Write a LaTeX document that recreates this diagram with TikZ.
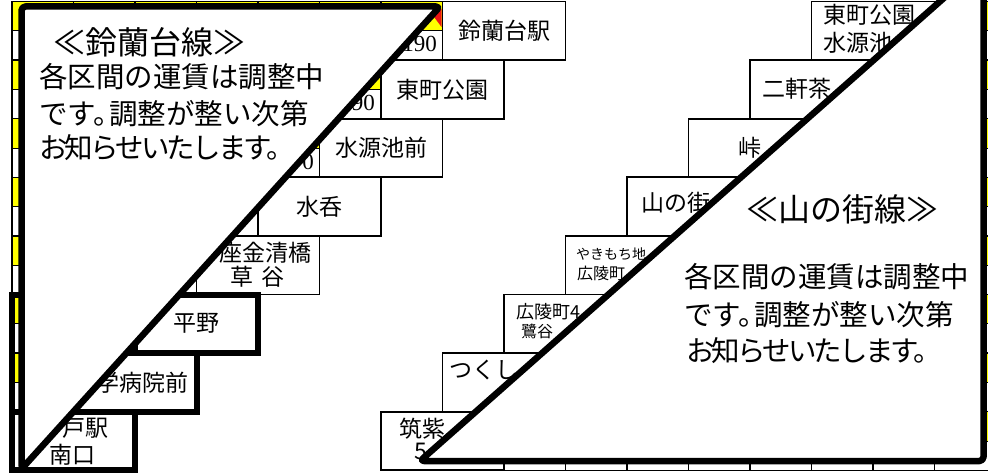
\documentclass[tikz,border=0pt]{standalone}
\usepackage{fontspec}
\setmainfont{Noto Sans CJK JP}
\newfontfamily\numfont{Liberation Serif}
\usepackage{tikz}
\definecolor{cellyellow}{RGB}{255,255,0}
\definecolor{markred}{RGB}{235,20,20}
\tikzset{
  cellline/.style={line width=1.3pt},
  halfline/.style={line width=0.8pt},
  stnbox/.style={draw, line width=1.8pt, fill=white, inner sep=0pt,
    minimum width=123pt, minimum height=58.6pt, font=\fontsize{23}{28}\selectfont},
  heavybox/.style={stnbox, line width=6pt},
  stntext/.style={inner sep=0pt, anchor=west, font=\fontsize{23}{28}\selectfont},
  faretext/.style={inner sep=0pt, anchor=east, font=\numfont\fontsize{23}{26}\selectfont},
  notebox/.style={draw, line width=6.5pt, fill=white, line join=round, rounded corners=4pt},
  notetitle/.style={inner sep=0pt, anchor=west, font=\fontsize{32}{36}\selectfont},
  notetext/.style={inner sep=0pt, anchor=west, font=\fontsize{28.5}{34}\selectfont}
}
\newcommand\halfdot{。\hspace{-0.45em}}
\newcommand\tightline[1]{{\addfontfeatures{LetterSpace=-10}#1}}
\begin{document}
\begin{tikzpicture}[x=1pt,y=-1pt]
\useasboundingbox (0,0) rectangle (988,473);
\clip (0,0) rectangle (988,473);
\fill[white] (0,0) rectangle (988,473);

% fare cells (Suzurandai line)
\foreach \r in {0,...,6} {
  \pgfmathtruncatemacro\last{6-\r}
  \foreach \c in {0,...,\last} {
    \fill[cellyellow] ({12+61.5*\c},{1.5+58.6*\r}) rectangle ++(61.5,29.3);
    \draw[cellline] ({12+61.5*\c},{1.5+58.6*\r}) rectangle ++(61.5,58.6);
    \draw[halfline] ({12+61.5*\c},{30.8+58.6*\r}) -- ++(61.5,0);
  }
}
% fare cells (Yamanomachi line)
\foreach \r in {0,...,7} {
  \pgfmathtruncatemacro\first{15-\r}
  \foreach \c in {\first,...,15} {
    \fill[cellyellow] ({12+61.5*\c},{1.5+58.6*\r}) rectangle ++(61.5,29.3);
    \draw[cellline] ({12+61.5*\c},{1.5+58.6*\r}) rectangle ++(61.5,58.6);
    \draw[halfline] ({12+61.5*\c},{30.8+58.6*\r}) -- ++(61.5,0);
  }
}
\fill[markred] (428,9) -- (441.5,9) -- (441.5,27) -- cycle;
\draw[line width=6pt] (12,294.5) rectangle (73.5,411.7);

\node[faretext] (f0) at (437,44) {190};
\node[faretext] (f1) at (375,103) {190};
\node[faretext] (f2) at (314,162) {0};

% Suzurandai line stops
\node[stnbox] (s0) at (504,30.8) {鈴蘭台駅};
\node[stnbox] (s1) at (442.5,89.4) {東町公園};
\node[stnbox] (s2) at (381,148) {水源池前};
\node[stnbox] (s3) at (319.5,206.6) {水呑};
\node[stnbox] (s4) at (258,265.2) {};
\node[heavybox] (s5) at (196.5,323.8) {平野};
\node[heavybox] (s6) at (135,382.4) {};
\node[heavybox] (s7) at (73.5,441) {};

\node[stntext] (t4a) at (219,253) {座金清橋};
\node[stntext, anchor=center] (t4b) at (257.5,277) {草\hspace{8pt}谷};
\node[stntext, anchor=east] (t6) at (189,383) {学病院前};
\node[stntext, anchor=east] (t7a) at (109,428) {戸駅};
\node[stntext, anchor=center] (t7b) at (72.5,455) {南口};

% Yamanomachi line stops
\node[stnbox] (y0) at (873,30.8) {};
\node[stnbox] (y1) at (811.5,89.4) {};
\node[stnbox] (y2) at (750,148) {峠};
\node[stnbox] (y3) at (688.5,206.6) {};
\node[stnbox] (y4) at (627,265.2) {};
\node[stnbox] (y5) at (565.5,323.8) {};
\node[stnbox] (y6) at (504,382.4) {};
\node[stnbox] (y7) at (442.5,441) {};

\node[stntext] (u0a) at (823.5,15) {東町公園};
\node[stntext] (u0b) at (823.5,43) {水源池};
\node[stntext] (u1) at (762,89) {二軒茶};
\node[stntext] (u3) at (641,203) {山の街};
\node[stntext, font=\fontsize{14}{16}\selectfont] (u4a) at (576,254) {やきもち地};
\node[stntext, font=\fontsize{16}{18}\selectfont] (u4b) at (577,273) {広陵町};
\node[stntext, font=\fontsize{18}{20}\selectfont] (u5a) at (516,312) {広陵町4};
\node[stntext, font=\fontsize{16}{18}\selectfont] (u5b) at (521,331) {鷺谷};
\node[stntext] (u6) at (449,370) {つくし};
\node[stntext] (u7a) at (399,429) {筑紫};
\node[stntext, anchor=center] (u7b) at (421,451) {5};

% notice sheets
\draw[notebox] (21.5,469) -- (21.5,6.5) -- (440,6.5) -- cycle;
\draw[notebox] (420,461) -- (983.5,461) -- (983.5,-37) -- cycle;

\node[notetitle] (n1) at (53,42) {≪鈴蘭台線≫};
\node[notetext] (n2) at (39,77) {各区間の運賃は調整中};
\node[notetext] (n3) at (39,114) {です\halfdot 調整が整い次第};
\node[notetext] (n4) at (39,148) {\tightline{お知らせいたします。}};

\node[notetitle] (m1) at (746,209) {≪山の街線≫};
\node[notetext] (m2) at (684,277) {各区間の運賃は調整中};
\node[notetext] (m3) at (684,315) {です\halfdot 調整が整い次第};
\node[notetext] (m4) at (686,351) {\tightline{お知らせいたします。}};
\end{tikzpicture}
\end{document}
